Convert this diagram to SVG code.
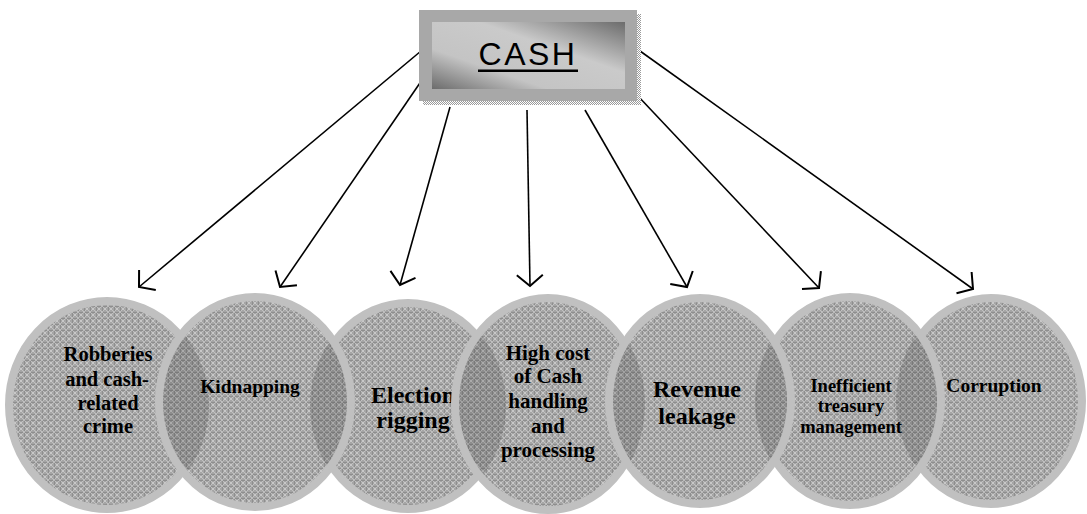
<svg xmlns="http://www.w3.org/2000/svg" width="1087" height="514" viewBox="0 0 1087 514">
<style>
.lbl{font-family:"Liberation Serif","Times New Roman",serif;font-weight:bold;text-anchor:middle;fill:#000}
.fill{fill:url(#pat);stroke:none}
.ring{fill:none;stroke:#c0c0c0;stroke-width:8}
.lens{fill:#000;fill-opacity:0.14;stroke:none}
.conn{stroke:#000;stroke-width:1.6;fill:none;marker-end:url(#ah)}
</style>
<defs>
<pattern id="pat" patternUnits="userSpaceOnUse" width="6" height="6">
<rect width="6" height="6" fill="#a5a5a5"/>
<path d="M0,0.5H6M0.5,0V6" stroke="#8e8e8e" stroke-width="1"/>
<path d="M0,6L6,0M0,0L6,6" stroke="#c8c8c8" stroke-width="0.8"/>
<rect x="2.5" y="2.5" width="1" height="1" fill="#e0e0e0"/>
</pattern>
<pattern id="dots" patternUnits="userSpaceOnUse" width="2" height="2">
<rect width="2" height="2" fill="#ffffff"/>
<rect width="1" height="1" fill="#9a9a9a"/>
<rect x="1" y="1" width="1" height="1" fill="#9a9a9a"/>
</pattern>
<linearGradient id="boxg" x1="0" y1="1" x2="1" y2="0">
<stop offset="0" stop-color="#6c6c6c"/>
<stop offset="0.3" stop-color="#c4c4c4"/>
<stop offset="0.62" stop-color="#cacaca"/>
<stop offset="1" stop-color="#6c6c6c"/>
</linearGradient>
<marker id="ah" markerUnits="userSpaceOnUse" markerWidth="30" markerHeight="30" viewBox="-15 -15 17 30" refX="0" refY="0" orient="auto" overflow="visible">
<path d="M-11,-13L0,0L-11,13" fill="none" stroke="#000" stroke-width="2"/>
</marker>
<clipPath id="k1"><ellipse cx="107" cy="405" rx="102" ry="108"/></clipPath>
<clipPath id="k3"><ellipse cx="408" cy="406" rx="98" ry="107"/></clipPath>
<clipPath id="k4"><ellipse cx="548" cy="404" rx="97" ry="110"/></clipPath>
<clipPath id="k6"><ellipse cx="850" cy="401" rx="95" ry="108"/></clipPath>
<clipPath id="k7"><ellipse cx="991" cy="401" rx="95" ry="107"/></clipPath>
</defs>
<rect width="1087" height="514" fill="#ffffff"/>

<g id="connectors">
<line class="conn" x1="421" y1="51" x2="139" y2="287"/>
<line class="conn" x1="422" y1="80" x2="280" y2="287"/>
<line class="conn" x1="450" y1="107" x2="400" y2="285"/>
<line class="conn" x1="527" y1="110" x2="530" y2="286"/>
<line class="conn" x1="585" y1="110" x2="687" y2="287"/>
<line class="conn" x1="637" y1="95" x2="819" y2="288"/>
<line class="conn" x1="640" y1="51" x2="973" y2="289"/>
</g>

<g id="cash">
<rect x="423" y="14" width="218" height="91" fill="url(#dots)"/>
<rect x="419" y="10" width="218" height="91" fill="#a8a8a8"/>
<rect x="432" y="22" width="193" height="67" fill="url(#boxg)"/>
<text x="528" y="65" font-family="'Liberation Sans',Arial,sans-serif" font-size="32" letter-spacing="2.5" text-anchor="middle" fill="#000">CASH</text>
<rect x="478" y="69.5" width="100" height="2.5" fill="#000"/>
</g>

<g id="n1">
<ellipse class="fill" cx="107" cy="405" rx="98" ry="104"/>
<ellipse class="ring" cx="107" cy="405" rx="98" ry="104"/>
<text class="lbl" font-size="20.5"><tspan x="108" y="361">Robberies</tspan><tspan x="107" y="386">and cash-</tspan><tspan x="108" y="410">related</tspan><tspan x="108" y="433">crime</tspan></text>
</g>

<g id="n3">
<ellipse class="fill" cx="408" cy="406" rx="94" ry="103"/>
<ellipse class="ring" cx="408" cy="406" rx="94" ry="103"/>
<text class="lbl" font-size="24"><tspan x="413" y="403">Election</tspan><tspan x="413" y="428">rigging</tspan></text>
</g>

<g id="n2">
<ellipse class="fill" cx="255" cy="402" rx="96" ry="105"/>
<ellipse class="lens" cx="255" cy="402" rx="96" ry="105" clip-path="url(#k1)"/>
<ellipse class="lens" cx="255" cy="402" rx="96" ry="105" clip-path="url(#k3)"/>
<ellipse class="ring" cx="255" cy="402" rx="96" ry="105"/>
<text class="lbl" font-size="19.5" x="250" y="393">Kidnapping</text>
</g>

<g id="n4">
<ellipse class="fill" cx="548" cy="404" rx="93" ry="106"/>
<ellipse class="lens" cx="548" cy="404" rx="93" ry="106" clip-path="url(#k3)"/>
<ellipse class="ring" cx="548" cy="404" rx="93" ry="106"/>
<text class="lbl" font-size="21"><tspan x="548" y="360">High cost</tspan><tspan x="548" y="383">of Cash</tspan><tspan x="548" y="408">handling</tspan><tspan x="548" y="433">and</tspan><tspan x="548" y="457">processing</tspan></text>
</g>

<g id="n7">
<ellipse class="fill" cx="991" cy="401" rx="91" ry="103"/>
<ellipse class="ring" cx="991" cy="401" rx="91" ry="103"/>
<text class="lbl" font-size="19.5" x="994" y="392">Corruption</text>
</g>

<g id="n6">
<ellipse class="fill" cx="850" cy="401" rx="91" ry="104"/>
<ellipse class="lens" cx="850" cy="401" rx="91" ry="104" clip-path="url(#k7)"/>
<ellipse class="ring" cx="850" cy="401" rx="91" ry="104"/>
<text class="lbl" font-size="18.5"><tspan x="851" y="392">Inefficient</tspan><tspan x="851" y="412">treasury</tspan><tspan x="851" y="433">management</tspan></text>
</g>

<g id="n5">
<ellipse class="fill" cx="700" cy="401" rx="91" ry="103"/>
<ellipse class="lens" cx="700" cy="401" rx="91" ry="103" clip-path="url(#k4)"/>
<ellipse class="lens" cx="700" cy="401" rx="91" ry="103" clip-path="url(#k6)"/>
<ellipse class="ring" cx="700" cy="401" rx="91" ry="103"/>
<text class="lbl" font-size="24"><tspan x="697" y="397">Revenue</tspan><tspan x="697" y="424">leakage</tspan></text>
</g>
</svg>
